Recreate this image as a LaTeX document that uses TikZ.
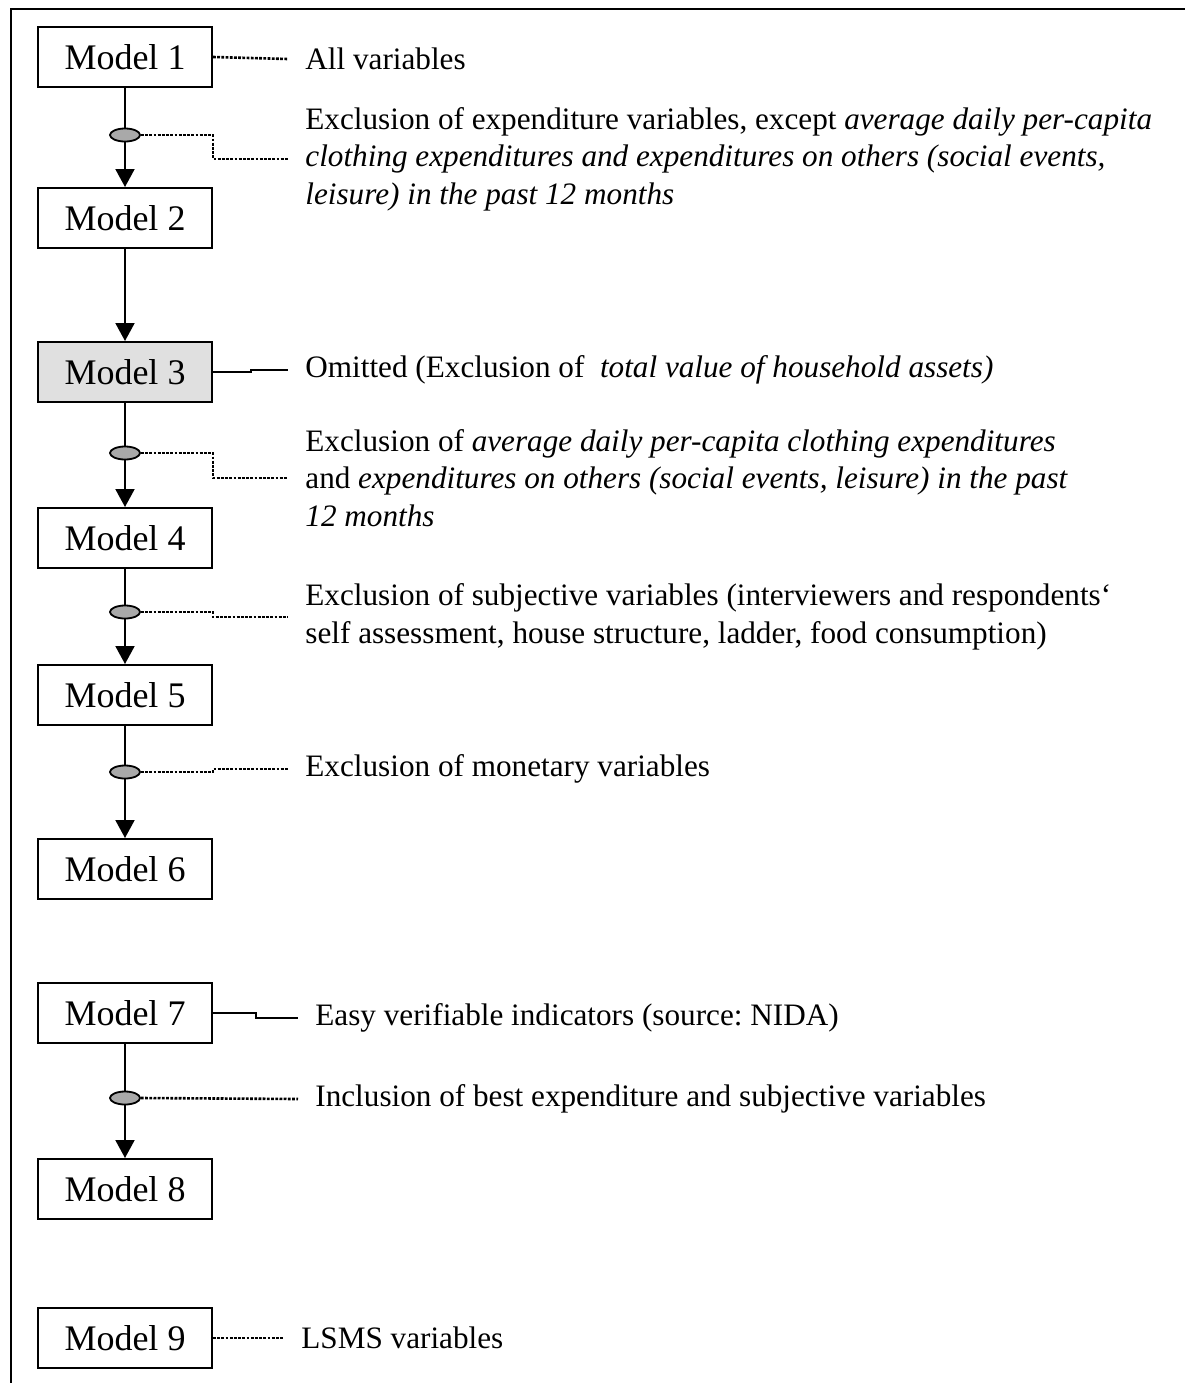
\documentclass[tikz,border=0pt]{standalone}
\usepackage{fontspec}
\setmainfont{Liberation Serif}
\frenchspacing
\usetikzlibrary{arrows.meta,positioning,calc,shapes.geometric}
\definecolor{knotgray}{HTML}{A9A9A9}
\definecolor{omitgray}{HTML}{E0E0E0}
\tikzset{
  modelbox/.style={draw,line width=1pt,fill=white,minimum width=87pt,minimum height=30pt,inner sep=0pt,font=\fontsize{18}{21}\selectfont},
  knot/.style={ellipse,draw,line width=0.9pt,fill=knotgray,minimum width=15pt,minimum height=6.5pt,inner sep=0pt},
  note/.style={anchor=west,align=left,inner xsep=8.5pt,inner ysep=0pt,font=\fontsize{15.6}{18.8}\selectfont},
  flow/.style={line width=1pt,-{Triangle[length=9pt,width=9.5pt]}},
  dotlink/.style={line width=1.3pt,dash pattern=on 1.4pt off 0.7pt},
  solidlink/.style={line width=1pt},
}

\begin{document}
\begin{tikzpicture}[x=0.5pt,y=-0.5pt]
  \useasboundingbox (0,0) rectangle (1185,1383);
  % Frame
  \draw[line width=1.2pt] (11,1383) -- (11,9) -- (1185,9);

  % Model boxes
  \node[modelbox] (m1) at (125,57) {Model 1};
  \node[modelbox] (m2) at (125,218) {Model 2};
  \node[modelbox,fill=omitgray] (m3) at (125,372) {Model 3};
  \node[modelbox] (m4) at (125,538) {Model 4};
  \node[modelbox] (m5) at (125,695) {Model 5};
  \node[modelbox] (m6) at (125,869) {Model 6};
  \node[modelbox] (m7) at (125,1013) {Model 7};
  \node[modelbox] (m8) at (125,1189) {Model 8};
  \node[modelbox] (m9) at (125,1338) {Model 9};

  % Chain arrows
  \draw[flow] (m1) -- (m2);
  \draw[flow] (m2) -- (m3);
  \draw[flow] (m3) -- (m4);
  \draw[flow] (m4) -- (m5);
  \draw[flow] (m5) -- (m6);
  \draw[flow] (m7) -- (m8);

  % Knots on the chain
  \node[knot] (e1) at (125,135) {};
  \node[knot] (e3) at (125,453) {};
  \node[knot] (e4) at (125,612) {};
  \node[knot] (e5) at (125,772) {};
  \node[knot] (e7) at (125,1098) {};

  % Notes
  \node[note] (t1) at (288,59) {All variables};
  \node[note] (t2) at (288,159) {Exclusion of expenditure variables, except \textit{average daily per-capita}\\
    \textit{clothing expenditures and expenditures on others (social events,}\\
    \textit{leisure) in the past 12 months}};
  \node[note] (t3) at (288,370) {Omitted (Exclusion of\ \ \textit{total value of household assets)}};
  \node[note] (t4) at (288,478) {Exclusion of \textit{average daily per-capita clothing expenditures}\\
    and \textit{expenditures on others (social events, leisure) in the past}\\
    \textit{12 months}};
  \node[note] (t5) at (288,617) {Exclusion of subjective variables (interviewers and respondents‘\\
    self assessment, house structure, ladder, food consumption)};
  \node[note] (t6) at (288,769) {Exclusion of monetary variables};
  \node[note] (t7) at (298,1018) {Easy verifiable indicators (source: NIDA)};
  \node[note] (t8) at (298,1099) {Inclusion of best expenditure and subjective variables};
  \node[note] (t9) at (284,1338) {LSMS variables};

  % Links to notes
  \draw[dotlink] (m1.east) -- (t1.west);
  \draw[dotlink] (e1.east) -- (e1.east -| m1.east) |- (t2.west);
  \draw[solidlink] (m3.east) -- ++(38,0) |- (t3.west);
  \draw[dotlink] (e3.east) -- (e3.east -| m3.east) |- (t4.west);
  \draw[dotlink] (e4.east) -- (e4.east -| m4.east) |- (t5.west);
  \draw[dotlink] (e5.east) -- (e5.east -| m5.east) |- (t6.west);
  \draw[solidlink] (m7.east) -- ++(43,0) |- (t7.west);
  \draw[dotlink] (e7.east) -- (t8.west);
  \draw[dotlink] (m9.east) -- (t9.west);
\end{tikzpicture}
\end{document}
